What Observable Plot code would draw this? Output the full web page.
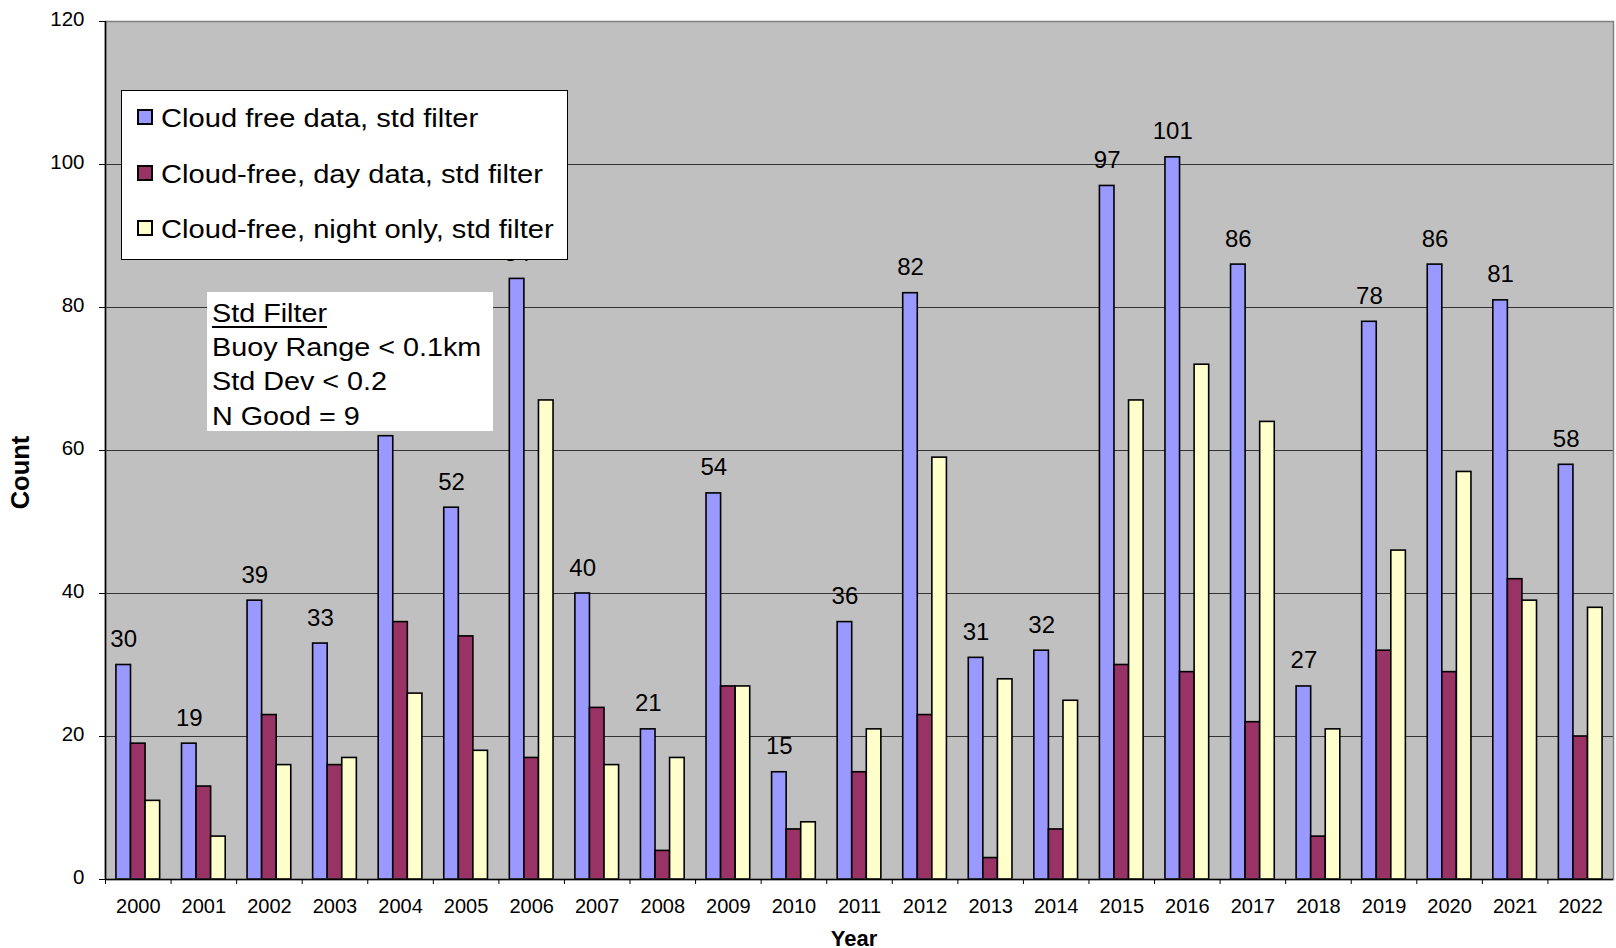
<!DOCTYPE html>
<html>
<head>
<meta charset="utf-8">
<script src="https://cdn.jsdelivr.net/npm/d3@7"></script>
<script src="https://cdn.jsdelivr.net/npm/@observablehq/plot@0.6"></script>
<style>
  html, body { margin: 0; padding: 0; background: #fff; }
  #chart { position: relative; width: 1616px; height: 948px; font-family: "Liberation Sans", Arial, sans-serif; color: #000; }
  #chart svg { position: absolute; left: 0; top: 0; }
  .legend { position: absolute; left: 121px; top: 90px; width: 447px; height: 170px; box-sizing: border-box;
            border: 1.3px solid #000; background: #fff; }
  .legend .row { position: relative; height: 55.5px; line-height: 55.5px; font-size: 26px; white-space: nowrap; }
  .legend .sw { position: absolute; left: 15px; top: 18px; width: 16px; height: 16px; box-sizing: border-box; border: 2px solid #000; }
  .legend .lbl { position: absolute; left: 39px; top: 0; transform: scaleX(1.12); transform-origin: 0 0; }
  .note { position: absolute; left: 207px; top: 292px; width: 286px; height: 139px; box-sizing: border-box;
          background: #fff; padding: 3.5px 0 0 4.5px; font-size: 25px; line-height: 34.4px; white-space: nowrap; }
  .note div { transform: scaleX(1.15); transform-origin: 0 0; }
  .note .head { text-decoration: underline; text-decoration-thickness: 2px; text-underline-offset: 4px; }
</style>
</head>
<body>
<div id="chart"></div>
<script>
// Yearly buoy match-up counts
const years = ["2000","2001","2002","2003","2004","2005","2006","2007","2008","2009","2010","2011",
               "2012","2013","2014","2015","2016","2017","2018","2019","2020","2021","2022"];
const cloudFree = [30, 19, 39, 33, 62, 52, 84, 40, 21, 54, 15, 36, 82, 31, 32, 97, 101, 86, 27, 78, 86, 81, 58];
const dayOnly   = [19, 13, 23, 16, 36, 34, 17, 24,  4, 27,  7, 15, 23,  3,  7, 30,  29, 22,  6, 32, 29, 42, 20];
const nightOnly = [11,  6, 16, 17, 26, 18, 67, 16, 17, 27,  8, 21, 59, 28, 25, 67,  72, 64, 21, 46, 57, 39, 38];

const seriesNames  = ["Cloud free data, std filter", "Cloud-free, day data, std filter", "Cloud-free, night only, std filter"];
const seriesColors = ["#9999ff", "#993366", "#ffffcc"];
const yTicks = [0, 20, 40, 60, 80, 100, 120];
const filterNotes = ["Std Filter", "Buoy Range < 0.1km", "Std Dev < 0.2", "N Good = 9"];

// Layout
const W = 1616, H = 948, mL = 105, mR = 3, mT = 21, mB = 69;
const step = (W - mL - mR) / years.length;
const barW = step / 4.5; // three bars per year with a 150% gap

const series = [cloudFree, dayOnly, nightOnly];
const bars = series.map((vals, i) => Plot.barY(vals, {
  x: years, y: vals,
  fill: seriesColors[i], stroke: "#000", strokeWidth: 1.6,
  insetLeft: barW * (0.75 + i), insetRight: barW * (2.75 - i)
}));

const chart = Plot.plot({
  width: W, height: H,
  marginLeft: mL, marginRight: mR, marginTop: mT, marginBottom: mB,
  style: { fontFamily: "Liberation Sans, Arial, sans-serif", fontSize: "20px", color: "#000", background: "transparent", overflow: "visible" },
  x: { type: "band", domain: years, padding: 0, round: false },
  y: { domain: [0, 120] },
  marks: [
    Plot.frame({ fill: "#c0c0c0", stroke: "none" }),
    Plot.gridY(yTicks, { stroke: "#333", strokeOpacity: 1, strokeWidth: 1 }),
    ...bars,
    Plot.text(cloudFree, {
      x: years, y: cloudFree, text: cloudFree.map(String),
      dx: -barW, dy: -18, lineAnchor: "bottom", fontSize: 24, fill: "#000"
    }),
    Plot.frame({ stroke: "#808080", strokeWidth: 1.5 }),
    Plot.ruleY([0], { stroke: "#000", strokeWidth: 1.6 }),
    Plot.ruleX([years[0]], { dx: -step / 2, stroke: "#000", strokeWidth: 1.6 }),
    Plot.axisY(yTicks, { anchor: "left", tickSize: 6, tickFormat: () => "", label: null, stroke: "#000" }),
    Plot.axisY(yTicks, { anchor: "left", tickSize: 0, tickPadding: 21, dy: -2.5, fontSize: 20.5, label: null }),
    Plot.axisX({ tickSize: 5, tickFormat: () => "", dx: -step / 2, label: null, stroke: "#000" }),
    Plot.axisX({ tickSize: 0, tickPadding: 19, fontSize: 20, label: null }),
    Plot.text(["Count"], { text: d => d, frameAnchor: "left", textAnchor: "middle", lineAnchor: "middle",
                           rotate: -90, dx: -85, dy: 22, fontSize: 25.5, fontWeight: "bold", ariaLabel: "y-title" }),
    Plot.text(["Year"], { text: d => d, frameAnchor: "bottom", textAnchor: "middle", lineAnchor: "bottom",
                          dx: -5.5, dy: 66, fontSize: 22, fontWeight: "bold", ariaLabel: "x-title" })
  ]
});

const root = document.getElementById("chart");
root.appendChild(chart);

// Axis titles are set slightly wide
[["y-title", 1.12], ["x-title", 1.11]].forEach(([name, k]) => {
  d3.select(chart).selectAll(`g[aria-label="${name}"] text`).each(function () {
    const len = this.getComputedTextLength();
    d3.select(this).attr("textLength", len * k).attr("lengthAdjust", "spacingAndGlyphs");
  });
});

// Series legend
const legend = document.createElement("div");
legend.className = "legend";
seriesNames.forEach((name, i) => {
  const row = document.createElement("div");
  row.className = "row";
  const sw = document.createElement("span");
  sw.className = "sw";
  sw.style.background = seriesColors[i];
  const lbl = document.createElement("span");
  lbl.className = "lbl";
  lbl.textContent = name;
  row.appendChild(sw);
  row.appendChild(lbl);
  legend.appendChild(row);
});
root.appendChild(legend);

// Filter settings note
const note = document.createElement("div");
note.className = "note";
filterNotes.forEach((t, i) => {
  const line = document.createElement("div");
  if (i === 0) {
    const head = document.createElement("span");
    head.className = "head";
    head.textContent = t;
    line.appendChild(head);
  } else {
    line.textContent = t;
  }
  note.appendChild(line);
});
root.appendChild(note);
</script>
</body>
</html>
